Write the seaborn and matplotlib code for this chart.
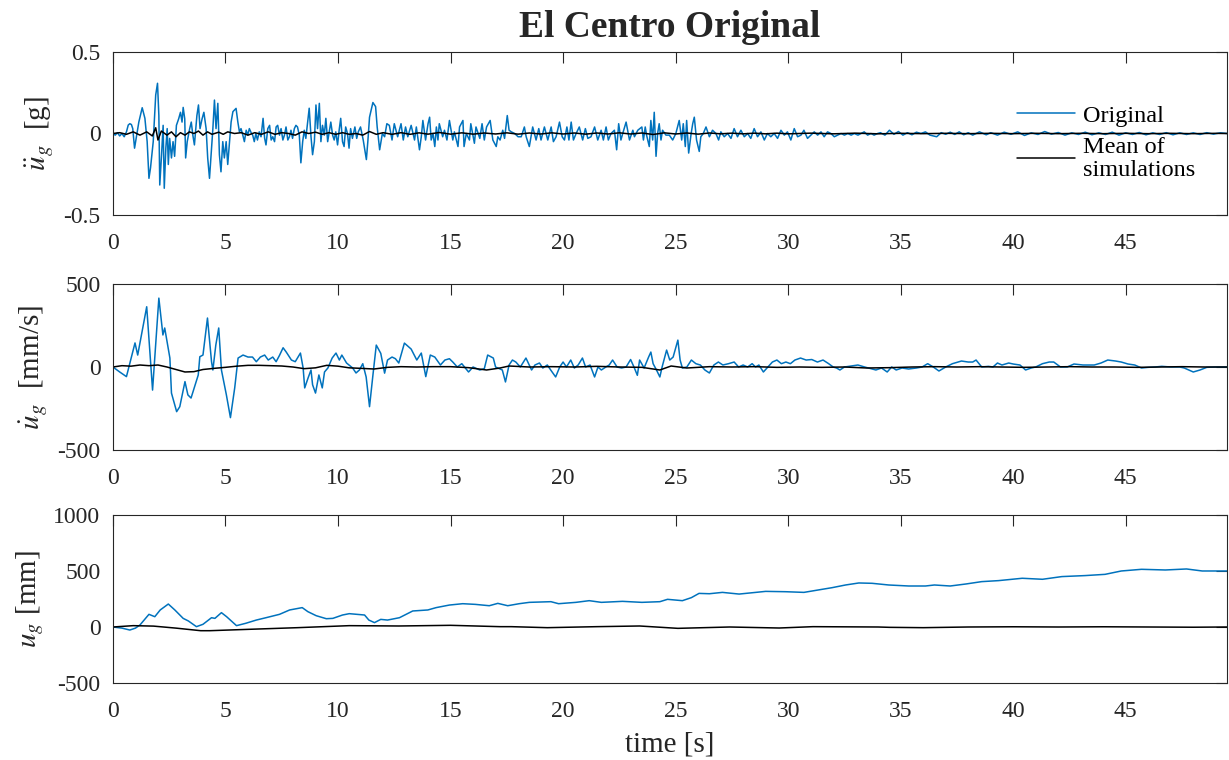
import numpy as np
import pandas as pd
import matplotlib
matplotlib.use("Agg")
import matplotlib.pyplot as plt
import seaborn as sns

# ---------------- data ----------------
acc_t = [0.0, 0.1, 0.2, 0.3, 0.4, 0.5, 0.6, 0.68, 0.75, 0.82, 0.88, 0.96, 1.03, 1.15, 1.3, 1.42, 1.52, 1.6, 1.67, 1.79,
         1.9, 1.98, 2.04, 2.08, 2.16, 2.23, 2.28, 2.35, 2.41, 2.46, 2.52, 2.6, 2.67, 2.74, 2.82, 2.92, 3.0, 3.07, 3.12, 3.19,
         3.23, 3.3, 3.41, 3.48, 3.55, 3.62, 3.73, 3.8, 3.87, 3.96, 4.04, 4.14, 4.21, 4.29, 4.36, 4.44, 4.51, 4.58, 4.66, 4.73,
         4.8, 4.88, 4.95, 5.03, 5.1, 5.18, 5.25, 5.33, 5.4, 5.47, 5.55, 5.62, 5.69, 5.77, 5.84, 5.92, 5.99, 6.06, 6.14, 6.21,
         6.28, 6.35, 6.42, 6.5, 6.58, 6.67, 6.74, 6.8, 6.88, 6.96, 7.03, 7.1, 7.18, 7.25, 7.32, 7.4, 7.47, 7.55, 7.62, 7.69,
         7.77, 7.84, 7.91, 7.98, 8.06, 8.13, 8.2, 8.28, 8.35, 8.43, 8.5, 8.57, 8.65, 8.72, 8.8, 8.87, 8.95, 9.02, 9.09, 9.17,
         9.24, 9.31, 9.39, 9.46, 9.54, 9.61, 9.68, 9.76, 9.83, 9.9, 9.98, 10.05, 10.12, 10.2, 10.27, 10.34, 10.42, 10.49, 10.56, 10.64,
         10.75, 10.83, 10.9, 11.0, 11.12, 11.26, 11.33, 11.4, 11.55, 11.67, 11.74, 11.85, 11.97, 12.07, 12.17, 12.28, 12.4, 12.5, 12.65, 12.8,
         12.9, 13.0, 13.1, 13.25, 13.4, 13.48, 13.62, 13.7, 13.77, 13.89, 14.0, 14.07, 14.14, 14.22, 14.3, 14.37, 14.44, 14.5, 14.65, 14.73,
         14.84, 14.95, 15.1, 15.17, 15.33, 15.4, 15.55, 15.6, 15.7, 15.84, 15.9, 16.06, 16.13, 16.3, 16.4, 16.5, 16.6, 16.76, 16.88, 17.03,
         17.1, 17.2, 17.32, 17.4, 17.52, 17.6, 17.7, 17.85, 18.0, 18.14, 18.28, 18.36, 18.5, 18.65, 18.8, 18.92, 19.02, 19.17, 19.32, 19.47,
         19.57, 19.69, 19.84, 19.96, 20.06, 20.17, 20.26, 20.36, 20.46, 20.58, 20.72, 20.87, 20.99, 21.1, 21.24, 21.4, 21.54, 21.69, 21.79, 21.91,
         22.01, 22.13, 22.28, 22.38, 22.47, 22.57, 22.65, 22.8, 22.95, 23.1, 23.17, 23.32, 23.5, 23.57, 23.65, 23.71, 23.83, 23.9, 23.98, 24.05,
         24.13, 24.2, 24.27, 24.35, 24.42, 24.57, 24.72, 24.87, 25.01, 25.16, 25.27, 25.34, 25.43, 25.49, 25.58, 25.69, 25.76, 25.83, 25.93, 26.05,
         26.12, 26.23, 26.35, 26.5, 26.64, 26.79, 26.91, 27.01, 27.16, 27.31, 27.46, 27.6, 27.75, 27.9, 28.05, 28.2, 28.34, 28.49, 28.64, 28.79,
         28.94, 29.08, 29.23, 29.38, 29.53, 29.68, 29.83, 29.97, 30.12, 30.27, 30.42, 30.57, 30.7, 30.86, 31.01, 31.16, 31.31, 31.46, 31.6, 31.75,
         31.9, 32.05, 32.2, 32.35, 32.5, 32.65, 32.8, 32.94, 33.1, 33.24, 33.38, 33.53, 33.68, 33.82, 33.97, 34.1, 34.3, 34.5, 34.7, 34.9,
         35.1, 35.3, 35.5, 35.7, 35.9, 36.1, 36.3, 36.6, 36.8, 37.0, 37.2, 37.4, 37.6, 37.8, 38.0, 38.2, 38.5, 38.8, 39.0, 39.3,
         39.6, 39.9, 40.2, 40.5, 40.8, 41.1, 41.4, 41.7, 42.0, 42.3, 42.6, 42.9, 43.2, 43.5, 43.8, 44.1, 44.4, 44.7, 45.0, 45.3,
         45.6, 45.9, 46.2, 46.5, 46.8, 47.1, 47.4, 47.7, 48.0, 48.3, 48.6, 48.9, 49.2, 49.5]
acc_orig = [0.0, -0.01, 0.005, -0.015, 0.0, -0.02, 0.01, 0.052, 0.06, 0.055, 0.03, -0.09, -0.03, 0.07, 0.158, 0.093, -0.05, -0.275, -0.21, -0.05,
            0.236, 0.308, 0.11, -0.316, -0.13, 0.05, -0.336, -0.09, 0.03, -0.19, -0.03, -0.15, -0.05, -0.14, 0.05, 0.09, 0.13, 0.07, 0.16, 0.09,
            -0.15, -0.05, 0.03, 0.07, -0.01, -0.07, 0.11, 0.175, 0.03, 0.09, 0.13, 0.03, -0.15, -0.275, -0.13, 0.03, 0.205, 0.03, 0.185, -0.13,
            -0.235, -0.05, -0.15, -0.05, -0.19, -0.05, 0.07, 0.134, 0.144, 0.154, 0.07, 0.01, 0.03, -0.01, -0.05, 0.02, -0.01, 0.03, 0.005, -0.01,
            -0.05, 0.0, -0.04, 0.01, -0.02, 0.093, -0.03, -0.07, 0.03, 0.05, -0.04, -0.02, -0.05, 0.04, 0.05, -0.01, 0.03, -0.04, -0.01, 0.04,
            -0.04, -0.02, 0.02, -0.03, 0.03, 0.05, 0.04, -0.01, -0.18, -0.05, 0.02, -0.03, 0.07, 0.155, -0.02, -0.13, -0.05, 0.175, 0.03, 0.185,
            -0.05, 0.05, -0.01, 0.093, -0.05, 0.01, 0.07, -0.01, -0.04, 0.01, -0.07, 0.02, 0.093, -0.05, -0.08, 0.04, 0.0, -0.09, 0.03, -0.03,
            0.04, -0.03, 0.01, 0.04, -0.04, -0.16, -0.04, 0.10, 0.19, 0.165, 0.04, -0.10, 0.0, -0.02, 0.06, 0.05, -0.04, 0.06, -0.02, 0.06,
            -0.04, 0.04, -0.02, 0.05, -0.04, 0.04, -0.10, -0.02, 0.08, -0.04, 0.06, 0.10, -0.04, 0.0, -0.08, 0.04, -0.04, 0.06, -0.02, 0.02,
            -0.04, 0.08, -0.04, 0.01, -0.08, 0.04, 0.08, -0.08, 0.0, -0.04, 0.06, -0.06, 0.04, -0.03, 0.06, -0.04, 0.04, 0.08, -0.04, -0.08,
            -0.02, -0.04, 0.02, -0.03, 0.11, 0.02, 0.01, 0.0, -0.02, -0.02, 0.04, -0.02, -0.08, 0.04, -0.04, 0.03, -0.04, 0.04, -0.04, 0.04,
            -0.05, -0.02, 0.07, -0.02, -0.04, 0.04, -0.04, 0.07, -0.04, 0.0, 0.04, -0.04, 0.03, -0.03, -0.02, 0.04, -0.04, 0.02, -0.04, 0.04,
            -0.04, 0.0, 0.02, -0.10, 0.06, -0.04, 0.0, 0.07, -0.04, 0.02, -0.02, 0.02, 0.04, -0.04, 0.04, -0.01, -0.08, 0.08, -0.04, 0.13,
            -0.14, 0.0, 0.06, -0.04, 0.02, -0.01, -0.01, -0.04, 0.0, 0.08, -0.04, 0.06, -0.08, 0.08, -0.12, 0.0, 0.06, 0.10, -0.04, -0.11,
            -0.02, 0.0, 0.04, -0.02, 0.02, 0.0, -0.04, 0.01, -0.02, 0.0, -0.03, 0.03, -0.02, 0.02, -0.02, 0.0, -0.03, 0.03, -0.02, 0.01,
            -0.04, 0.0, -0.02, 0.0, -0.03, 0.02, -0.01, 0.01, -0.04, 0.03, -0.02, -0.01, 0.02, -0.03, -0.01, 0.01, -0.01, 0.01, -0.02, 0.01,
            0.0, -0.02, -0.01, 0.0, -0.01, 0.0, -0.01, 0.0, -0.01, 0.0, 0.01, -0.01, 0.0, -0.01, 0.0, 0.005, -0.01, 0.02, -0.005, 0.012,
            -0.01, 0.005, -0.008, 0.008, 0.0, 0.01, -0.01, -0.02, 0.005, -0.005, 0.008, -0.006, 0.01, -0.008, 0.005, -0.01, 0.01, -0.008, 0.005, -0.01,
            0.008, -0.005, 0.01, -0.012, 0.004, -0.006, 0.012, -0.004, 0.006, -0.01, 0.004, -0.006, 0.008, -0.008, 0.004, -0.006, 0.008, -0.01, 0.004, -0.006,
            0.006, -0.008, 0.004, -0.006, 0.005, -0.008, 0.004, -0.006, 0.004, -0.006, 0.005, -0.004, 0.004, 0.0]

macc_t = [0.0, 0.3, 0.6, 0.9, 1.2, 1.5, 1.75, 1.9, 2.0, 2.15, 2.4, 2.6, 2.8, 3.0, 3.2, 3.4, 3.6, 3.8, 4.0, 4.2,
          4.4, 4.7, 4.9, 5.1, 5.4, 5.7, 6.0, 6.3, 6.6, 6.9, 7.2, 7.5, 7.8, 8.1, 8.4, 8.7, 9.0, 9.3, 9.6, 9.9,
          10.2, 10.5, 10.8, 11.1, 11.4, 11.7, 12.0, 12.4, 12.8, 13.2, 13.6, 14.0, 14.5, 15.0, 15.5, 16.0, 16.5, 17.0, 17.5, 18.0,
          18.5, 19.0, 19.5, 20.0, 20.5, 21.0, 21.5, 22.0, 22.5, 23.0, 23.5, 24.0, 24.5, 25.0, 25.5, 26.0, 26.5, 27.0, 27.5, 28.0,
          28.5, 29.0, 29.5, 30.0, 31.0, 32.0, 33.0, 34.0, 35.0, 36.0, 37.0, 38.0, 39.0, 40.0, 41.0, 42.0, 43.0, 44.0, 45.0, 46.0,
          47.0, 48.0, 49.0, 49.5]
macc = [0.0, 0.005, -0.005, 0.01, -0.01, 0.01, -0.015, 0.035, -0.04, 0.015, -0.01, 0.01, -0.02, 0.005, -0.01, 0.01, 0.0, 0.015, -0.01, 0.01,
        -0.005, 0.008, -0.005, 0.01, 0.0, 0.005, -0.01, 0.005, -0.005, 0.01, -0.005, 0.005, 0.0, -0.01, 0.01, 0.0, 0.008, -0.005, 0.005, -0.005,
        0.005, -0.005, 0.0, -0.01, 0.012, -0.005, 0.005, -0.005, 0.005, -0.005, 0.004, -0.004, 0.006, -0.004, 0.004, -0.004, 0.003, -0.003, 0.004, -0.004,
        0.003, -0.003, 0.004, -0.003, 0.003, -0.004, 0.003, -0.003, 0.004, -0.003, 0.003, -0.006, 0.004, -0.003, 0.003, -0.004, 0.003, -0.002, 0.002, -0.002,
        0.002, -0.002, 0.002, -0.002, 0.002, -0.002, 0.002, -0.002, 0.001, -0.001, 0.001, -0.001, 0.001, -0.001, 0.001, -0.001, 0.001, -0.001, 0.001, -0.001,
        0.001, -0.001, 0.001, 0.0]

vel_t = [0.0, 0.3, 0.6, 0.98, 1.1, 1.5, 1.76, 2.04, 2.22, 2.3, 2.53, 2.6, 2.83, 2.97, 3.2, 3.33, 3.47, 3.79, 3.86, 4.0,
         4.2, 4.38, 4.44, 4.57, 4.7, 4.82, 5.04, 5.22, 5.41, 5.56, 5.78, 6.0, 6.2, 6.37, 6.55, 6.74, 6.9, 7.1, 7.25, 7.4,
         7.56, 7.7, 7.93, 8.1, 8.33, 8.45, 8.52, 8.67, 8.8, 8.87, 9.0, 9.15, 9.3, 9.4, 9.55, 9.74, 9.91, 10.06, 10.17, 10.38,
         10.65, 10.8, 10.95, 11.1, 11.25, 11.4, 11.55, 11.7, 11.9, 12.07, 12.2, 12.4, 12.55, 12.7, 12.95, 13.25, 13.5, 13.7, 13.9, 14.1,
         14.3, 14.55, 14.75, 14.95, 15.1, 15.3, 15.5, 15.8, 16.0, 16.3, 16.5, 16.65, 16.9, 17.0, 17.3, 17.44, 17.6, 17.75, 17.9, 18.1,
         18.35, 18.6, 18.75, 18.95, 19.1, 19.3, 19.45, 19.67, 19.85, 20.0, 20.15, 20.34, 20.5, 20.67, 20.86, 21.0, 21.2, 21.4, 21.55, 21.7,
         21.9, 22.05, 22.2, 22.4, 22.6, 22.8, 23.0, 23.15, 23.3, 23.4, 23.6, 23.8, 23.9, 24.0, 24.15, 24.3, 24.4, 24.6, 24.74, 24.89,
         25.1, 25.2, 25.3, 25.5, 25.7, 25.9, 26.1, 26.3, 26.5, 26.7, 26.9, 27.1, 27.35, 27.6, 27.8, 28.0, 28.2, 28.4, 28.55, 28.7,
         28.9, 29.1, 29.3, 29.5, 29.7, 29.9, 30.1, 30.3, 30.55, 30.8, 31.05, 31.3, 31.55, 31.8, 32.0, 32.15, 32.3, 32.5, 32.8, 33.1,
         33.4, 33.9, 34.15, 34.4, 34.6, 34.8, 35.06, 35.35, 35.7, 35.95, 36.2, 36.45, 36.7, 37.0, 37.3, 37.7, 38.0, 38.2, 38.35, 38.6,
         38.9, 39.1, 39.3, 39.5, 39.8, 40.0, 40.3, 40.55, 40.8, 41.0, 41.3, 41.6, 41.8, 42.1, 42.4, 42.7, 43.1, 43.6, 43.9, 44.2,
         44.55, 44.8, 45.1, 45.4, 45.7, 46.0, 46.3, 46.6, 47.0, 47.4, 47.6, 48.0, 48.3, 48.6, 49.0, 49.5]
vel_orig = [0, -30, -58, 145, 72, 363, -139, 415, 193, 235, 54, -157, -269, -239, -88, -168, -187, -48, 62, 72,
            295, 32, -18, 132, 235, -18, -168, -305, -126, 54, 72, 60, 60, 32, 60, 72, 42, 60, 32, 70,
            116, 90, 42, 32, 84, -6, -126, -66, -18, -107, -157, -48, -126, -30, -6, 54, 84, 42, 72, 24,
            -6, -36, -18, 20, -60, -239, -50, 132, 82, -37, 42, 60, 50, 24, 144, 108, 42, 84, -58, 72,
            60, 12, 42, 50, 30, 0, 20, -30, 0, -18, -10, 72, 54, 0, -18, -90, 12, 42, 30, 0,
            54, -18, 12, 24, -6, 12, -18, -60, 0, 30, 0, 42, -6, 12, 54, 0, 12, -60, 0, -18,
            0, 12, 42, 0, -6, 0, 45, 0, -50, 42, -6, 60, 90, 20, -18, -60, 0, 102, 42, 60,
            162, 42, -6, 0, 42, 20, 12, -18, -36, 12, 30, 12, 20, 30, 0, 12, 0, 20, 0, 12,
            -30, 0, 30, 42, 20, 30, 20, 42, 54, 42, 45, 30, 42, 20, 0, -6, -18, 0, 6, 12,
            0, -18, -6, -30, 0, -18, -6, -12, -6, 0, 20, 0, -24, 0, 20, 36, 30, 30, 42, 0,
            4, 0, 24, 12, 24, 18, 12, -18, -6, 0, 20, 30, 30, 0, 0, 18, 12, 12, 24, 42,
            36, 30, 18, 12, -6, -2, 0, 4, 0, 0, -6, -30, -18, -2, 0, 0]

mvel_t = [0.0, 0.4, 0.8, 1.2, 1.6, 2.0, 2.4, 2.8, 3.2, 3.6, 4.0, 4.5, 5.0, 5.5, 6.0, 6.5, 7.0, 7.5, 8.0, 8.5,
          9.0, 9.5, 10.0, 10.5, 11.0, 11.6, 12.2, 12.8, 13.5, 14.2, 15.0, 15.8, 16.6, 17.2, 17.6, 18.5, 19.5, 20.5, 21.5, 22.5,
          23.5, 24.3, 24.8, 25.5, 26.5, 27.5, 28.5, 29.5, 30.5, 31.5, 32.5, 33.5, 34.5, 35.5, 36.5, 37.5, 38.5, 39.5, 40.5, 41.5,
          42.5, 43.5, 44.5, 45.5, 46.5, 47.5, 48.5, 49.5]
mvel = [0, 8, 5, 12, 8, 12, 0, -15, -30, -28, -15, -8, -2, 5, 10, 10, 8, 6, 0, -10,
        -5, 10, 5, -5, -8, -12, -2, 2, 0, 2, 2, -4, -18, -6, 6, 0, 2, 0, 4, 0,
        -2, -18, 6, -6, 2, 0, 2, -2, 0, -2, 0, -6, -4, 0, 2, 0, 2, 0, -2, 0,
        2, 0, 0, -2, 0, 2, 0, 0]

disp_t = [0.0, 0.4, 0.75, 1.0, 1.2, 1.6, 1.86, 2.1, 2.46, 2.75, 3.12, 3.35, 3.71, 4.0, 4.38, 4.53, 4.82, 5.05, 5.49, 5.9,
          6.37, 6.8, 7.4, 7.85, 8.41, 8.66, 9.03, 9.48, 9.77, 10.2, 10.5, 11.18, 11.37, 11.62, 11.9, 12.2, 12.73, 13.32, 13.99, 14.36,
          14.95, 15.54, 16.1, 16.72, 17.1, 17.54, 18.05, 18.5, 19.46, 19.8, 20.57, 21.16, 21.7, 22.64, 23.5, 24.3, 24.64, 25.3, 25.7, 26.04,
          26.5, 27.08, 27.82, 28.56, 29.0, 29.89, 30.7, 31.5, 31.95, 32.55, 33.14, 33.73, 34.47, 35.36, 36.1, 36.5, 37.2, 37.9, 38.6, 39.35,
          40.4, 41.3, 42.16, 43.2, 44.08, 44.8, 45.7, 46.76, 47.7, 48.4, 49.5]
disp_orig = [0, -10, -27, -10, 18, 113, 92, 152, 205, 152, 77, 54, 3, 24, 83, 77, 128, 92, 12, 33,
             62, 83, 113, 152, 173, 137, 101, 74, 77, 107, 119, 107, 62, 39, 68, 62, 83, 143, 152, 173,
             196, 208, 202, 190, 211, 190, 208, 220, 226, 208, 220, 235, 220, 229, 220, 226, 247, 235, 262, 300,
             297, 309, 294, 309, 318, 315, 309, 336, 351, 375, 393, 390, 375, 366, 366, 375, 366, 384, 405, 414,
             435, 426, 450, 459, 470, 500, 515, 509, 518, 500, 500]

mdisp_t = [0.0, 0.9, 1.8, 2.8, 3.9, 4.3, 6.0, 8.2, 10.5, 12.7, 15.0, 17.2, 17.7, 19.3, 21.5, 23.4, 25.1, 27.4, 29.6, 31.1,
           34.0, 34.5, 36.0, 38.0, 40.0, 42.0, 44.0, 46.0, 48.0, 49.5]
mdisp = [0, 12, 8, -10, -33, -33, -21, -6, 12, 9, 15, 3, 3, -6, 3, 9, -12, 0, -9, 3,
         0, -3, -6, 0, 2, 0, 2, 0, -2, 0]

xticks = [0, 5, 10, 15, 20, 25, 30, 35, 40, 45]
panels = [
    dict(t=acc_t, y=acc_orig, mt=macc_t, my=macc, ylim=(-0.5, 0.5), yticks=[-0.5, 0, 0.5],
         yticklabels=["-0.5", "0", "0.5"], ylabel=r"$\ddot{u}_g$  [g]"),
    dict(t=vel_t, y=vel_orig, mt=mvel_t, my=mvel, ylim=(-500, 500), yticks=[-500, 0, 500],
         yticklabels=["-500", "0", "500"], ylabel=r"$\dot{u}_g$  [mm/s]"),
    dict(t=disp_t, y=disp_orig, mt=mdisp_t, my=mdisp, ylim=(-500, 1000), yticks=[-500, 0, 500, 1000],
         yticklabels=["-500", "0", "500", "1000"], ylabel=r"$u_g$ [mm]"),
]

# ---------------- style ----------------
sns.set_style("white")
plt.rcParams["font.family"] = ["Liberation Serif", "DejaVu Serif"]
plt.rcParams["mathtext.fontset"] = "stix"
plt.rcParams["axes.unicode_minus"] = False

BLUE = "#0072BD"
DARK = "#262626"

fig = plt.figure(figsize=(12.29, 7.60), dpi=100)
boxes = [(0.0919, 0.7171, 0.9065, 0.2145),
         (0.0919, 0.4079, 0.9065, 0.2184),
         (0.0919, 0.1013, 0.9065, 0.2211)]

axes = []
for box, p in zip(boxes, panels):
    ax = fig.add_axes(box)
    d1 = pd.DataFrame({"t": p["t"], "v": p["y"]})
    d2 = pd.DataFrame({"t": p["mt"], "v": p["my"]})
    sns.lineplot(data=d1, x="t", y="v", ax=ax, color=BLUE, lw=1.1, label="Original",
                 estimator=None, sort=False)
    sns.lineplot(data=d2, x="t", y="v", ax=ax, color="black", lw=1.1, label="Mean of\nsimulations",
                 estimator=None, sort=False)
    ax.set_xlim(0, 49.5)
    ax.set_ylim(*p["ylim"])
    ax.set_xticks(xticks)
    ax.set_xticklabels([str(x) for x in xticks])
    ax.set_yticks(p["yticks"])
    ax.set_yticklabels(p["yticklabels"])
    ax.set_ylabel(p["ylabel"], fontsize=21, color=DARK, labelpad=5)
    ax.set_xlabel("")
    ax.tick_params(direction="in", top=True, right=True, length=8, width=0.8,
                   labelsize=17, colors=DARK)
    ax.tick_params(axis="x", pad=13)
    ax.tick_params(axis="y", pad=9)
    for s in ax.spines.values():
        s.set_color(DARK)
        s.set_linewidth(0.8)
    leg = ax.get_legend()
    if leg is not None:
        leg.remove()
    axes.append(ax)

leg = axes[0].legend(loc="upper right", bbox_to_anchor=(0.98, 0.735), frameon=False,
                     fontsize=17.5, handlelength=2.4, handletextpad=0.3, labelspacing=0.4,
                     borderaxespad=0.0)
for txt in leg.get_texts():
    txt.set_color("black")
    txt.set_linespacing(1.12)

axes[0].set_title("El Centro Original", fontsize=27, fontweight="bold", pad=11)
axes[2].set_xlabel("time [s]", fontsize=21, color=DARK, labelpad=7)

fig.savefig("out.png", dpi=100, facecolor="white")
